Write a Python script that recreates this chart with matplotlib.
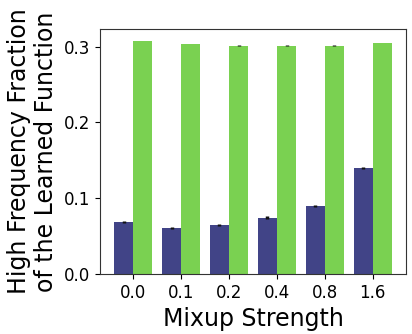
import matplotlib
matplotlib.use('Agg')
import matplotlib.pyplot as plt
import numpy as np

strengths = ['0.0', '0.1', '0.2', '0.4', '0.8', '1.6']
blue_vals = [0.0687, 0.0610, 0.0650, 0.0740, 0.0900, 0.1400]
blue_err = [0.0015, 0.0015, 0.0015, 0.0020, 0.0015, 0.0012]
green_vals = [0.3075, 0.3035, 0.3010, 0.3010, 0.3010, 0.3050]
green_err = [0.0003, 0.0003, 0.0008, 0.0008, 0.0008, 0.0003]

x = np.arange(len(strengths))
w = 0.4

fig = plt.figure(figsize=(4.12, 3.34), dpi=100)
ax = fig.add_axes([0.243, 0.180, 0.742, 0.733])

ax.bar(x - w/2, blue_vals, w, color='#414487', yerr=blue_err,
       error_kw=dict(ecolor='#111111', elinewidth=2.5, capsize=0))
ax.bar(x + w/2, green_vals, w, color='#7ad151', yerr=green_err,
       error_kw=dict(ecolor='#111111', elinewidth=2.5, capsize=0))

ax.set_xticks(x)
ax.set_xticklabels(strengths)
ax.set_yticks([0.0, 0.1, 0.2, 0.3])
ax.tick_params(labelsize=12)
ax.set_xlabel('Mixup Strength', fontsize=17)
ax.set_ylabel('High Frequency Fraction\nof the Learned Function', fontsize=17)
for s in ax.spines.values():
    s.set_color('#333333')

fig.savefig('out.png', dpi=100)
